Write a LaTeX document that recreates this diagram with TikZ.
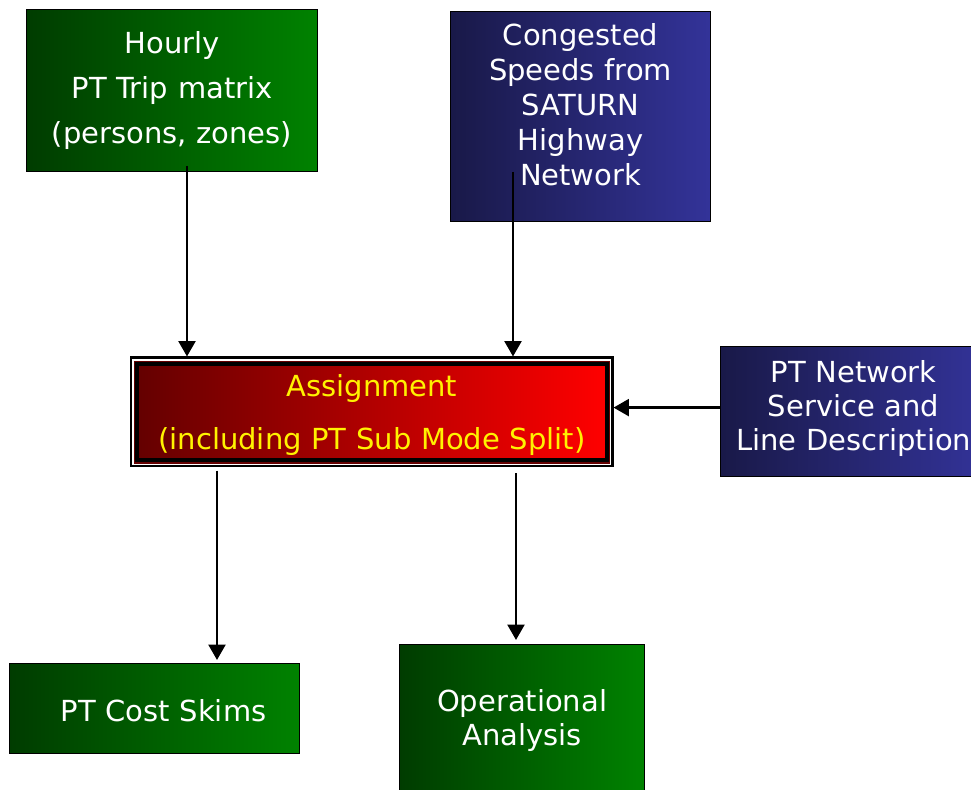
\documentclass[tikz,border=0pt]{standalone}
\usepackage{fontspec}
\setmainfont{DejaVu Sans}
\usetikzlibrary{arrows.meta}

\definecolor{tripdark}{RGB}{0,60,0}
\definecolor{triplight}{RGB}{0,130,0}
\definecolor{netdark}{RGB}{25,25,72}
\definecolor{netlight}{RGB}{51,51,153}
\definecolor{assigndark}{RGB}{100,0,0}
\definecolor{assignlight}{RGB}{255,0,0}

\begin{document}
\begin{tikzpicture}[x=0.02cm, y=-0.02cm,
    databox/.style={draw=black, line width=0.7pt, inner sep=0pt, anchor=north west,
        align=center, text=white},
    greenbox/.style={databox, left color=tripdark, right color=triplight},
    bluebox/.style={databox, left color=netdark, right color=netlight},
    flow/.style={-{Triangle[width=9.6pt, length=8.8pt]}, line width=1.6pt}]
    \useasboundingbox (0,0) rectangle (971,790);
    \clip (0,0) rectangle (971,790);

    % inputs
    \node[greenbox, text width=5.82cm, text height=0.874cm, text depth=2.366cm,
        font=\fontsize{16.5}{0.9cm}\selectfont] (hourly) at (26,9)
        {Hourly\\PT Trip matrix\\(persons, zones)};
    \node[bluebox, text width=5.2cm, text height=0.68cm, text depth=3.52cm,
        font=\fontsize{16.5}{0.7cm}\selectfont] (congested) at (450,11)
        {Congested\\Speeds from\\SATURN\\Highway\\Network};
    \node[bluebox, text width=5.32cm, text height=0.72cm, text depth=1.88cm,
        font=\fontsize{16.5}{0.68cm}\selectfont] (ptnet) at (720,346)
        {PT Network\\Service and\\Line Description};

    % assignment
    \node[draw=black, line width=1.2pt, fill=white, inner sep=0pt, anchor=north west,
        minimum width=9.64cm, minimum height=2.17cm] (assign) at (129.5,356.5) {};
    \node[draw=black, line width=2.2pt, preaction={draw=assigndark, line width=3.6pt},
        left color=assigndark, right color=assignlight, inner sep=0pt, anchor=north west,
        text width=9.4cm, text height=0.65cm, text depth=1.27cm, align=center, text=yellow,
        font=\fontsize{16.5}{1.06cm}\selectfont] (assigncore) at (135,362.5)
        {Assignment\\(including PT Sub Mode Split)};

    % outputs
    \node[greenbox, text width=5.8cm, text height=1.16cm, text depth=0.64cm,
        font=\fontsize{16.5}{0.68cm}\selectfont] (skims) at (9,663)
        {\hspace*{0.36cm}PT Cost Skims};
    \node[greenbox, text width=4.9cm, text height=1.34cm, text depth=1.98cm,
        font=\fontsize{16.5}{0.68cm}\selectfont] (ops) at (399,644)
        {Operational\\Analysis};

    \coordinate (hourlyout) at (187,166);
    \coordinate (congout) at (513,172);
    \coordinate (skimsin) at (217,663);
    \coordinate (opsin) at (516,644);

    \draw[flow] (hourlyout) -- (hourlyout |- assign.north);
    \draw[flow] (congout) -- (congout |- assign.north);
    \draw[flow] ([yshift=0.08cm]ptnet.west) -- ([yshift=0.08cm]ptnet.west -| assign.east);
    \draw[flow, shorten <=0.07cm, shorten >=0.06cm] (assign.south -| skimsin) -- (skimsin);
    \draw[flow, shorten <=0.12cm, shorten >=0.08cm] (assign.south -| opsin) -- (opsin);
\end{tikzpicture}
\end{document}
